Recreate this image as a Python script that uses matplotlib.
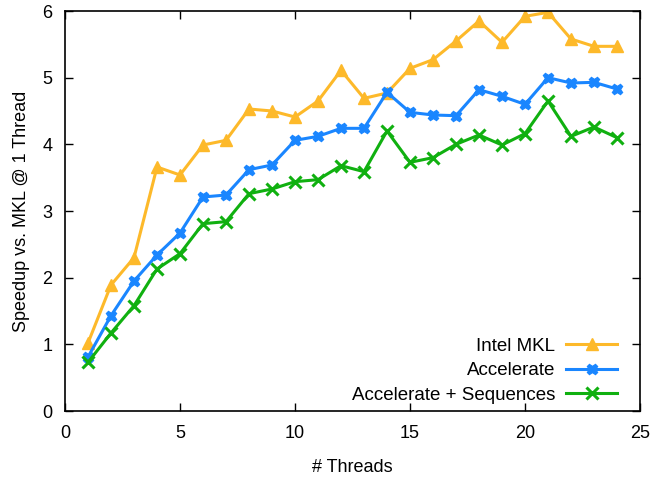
import matplotlib.pyplot as plt

threads = list(range(1, 25))
mkl = [1.02, 1.89, 2.30, 3.66, 3.54, 3.99, 4.06, 4.53, 4.50, 4.41, 4.65, 5.11,
       4.69, 4.77, 5.14, 5.27, 5.55, 5.85, 5.53, 5.92, 5.98, 5.58, 5.47, 5.47]
accel = [0.81, 1.43, 1.95, 2.34, 2.67, 3.21, 3.24, 3.62, 3.69, 4.06, 4.12, 4.24,
         4.24, 4.78, 4.48, 4.44, 4.43, 4.82, 4.72, 4.60, 5.00, 4.92, 4.93, 4.83]
accel_seq = [0.73, 1.17, 1.58, 2.13, 2.36, 2.81, 2.84, 3.26, 3.33, 3.44, 3.47, 3.68,
             3.59, 4.20, 3.73, 3.80, 4.00, 4.14, 3.99, 4.16, 4.65, 4.12, 4.26, 4.10]

plt.rcParams['font.family'] = ['Liberation Sans', 'DejaVu Sans']
plt.rcParams['font.size'] = 13

fig = plt.figure(figsize=(6.51, 4.78), dpi=100)
ax = fig.add_axes([65/651, 67/478, 575/651, 400/478])

ax.plot(threads, mkl, color='#fdb92a', lw=2.2, marker='^', ms=9, label='Intel MKL')
ax.plot(threads, accel, color='#1a86ff', lw=2.2, marker='X', ms=7.5, label='Accelerate')
ax.plot(threads, accel_seq, color='#10b010', lw=2.2, marker='x', ms=8, mew=2.2,
        label='Accelerate + Sequences')

ax.set_xlim(0, 25)
ax.set_ylim(0, 6)
ax.set_xticks([0, 5, 10, 15, 20, 25])
ax.set_yticks(range(7))
ax.tick_params(direction='in', top=True, right=True, length=6, width=1, pad=10,
               labelsize=13)
ax.tick_params(axis='y', pad=9)
for s in ax.spines.values():
    s.set_linewidth(1.2)
ax.set_xlabel('# Threads', labelpad=12)
ax.set_ylabel('Speedup vs. MKL @ 1 Thread', labelpad=9)

ax.legend(loc='lower right', bbox_to_anchor=(0.96, 0.018), frameon=False,
          markerfirst=False, handlelength=2.7, handletextpad=0.6,
          labelspacing=0.4, borderaxespad=0, borderpad=0, fontsize=13.5)

fig.savefig('out.png', dpi=100)
